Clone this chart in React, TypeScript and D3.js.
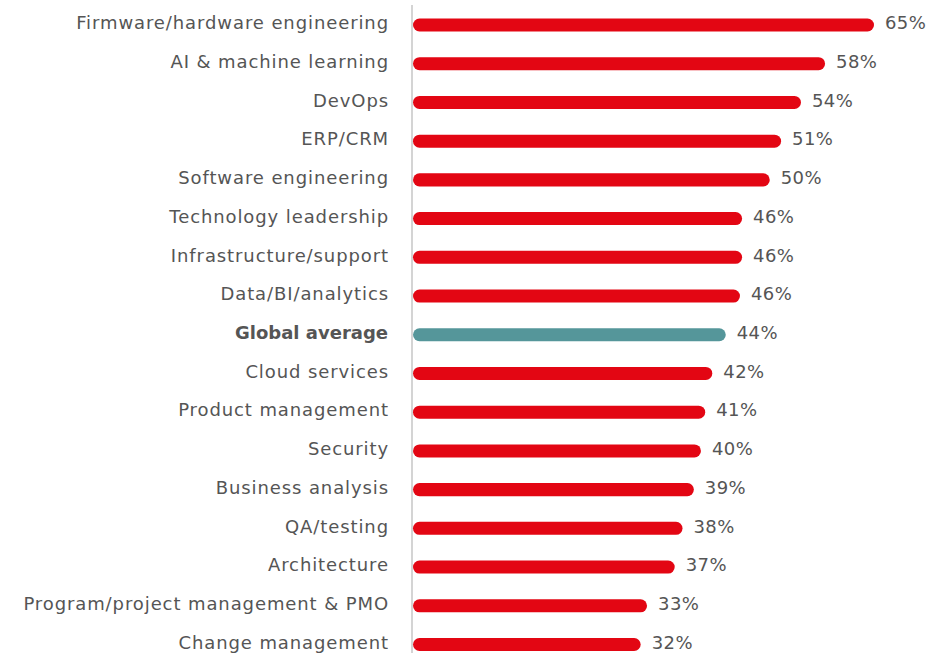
import React from 'react'
import * as d3 from 'd3'

const categories = [
  'Firmware/hardware engineering',
  'AI & machine learning',
  'DevOps',
  'ERP/CRM',
  'Software engineering',
  'Technology leadership',
  'Infrastructure/support',
  'Data/BI/analytics',
  'Global average',
  'Cloud services',
  'Product management',
  'Security',
  'Business analysis',
  'QA/testing',
  'Architecture',
  'Program/project management & PMO',
  'Change management',
]
// bar lengths as drawn (unrounded), and the printed labels
const barValues = [65, 58.1, 54.7, 51.9, 50.3, 46.4, 46.4, 46.1, 44.1, 42.2, 41.2, 40.6, 39.6, 38.0, 36.9, 33.0, 32.1]
const labels = [65, 58, 54, 51, 50, 46, 46, 46, 44, 42, 41, 40, 39, 38, 37, 33, 32]
const highlight = 'Global average'

const W = 938
const H = 653
const FONT = '"DejaVu Sans", sans-serif'

export default function App() {
  const x = d3.scaleLinear().domain([0, 65]).range([413, 874])
  const y = d3.scaleBand<string>().domain(categories).range([18.5, 651]).paddingInner(0.664).paddingOuter(0)
  const bh = y.bandwidth()

  return (
    <svg width={W} height={H} style={{ position: 'absolute', left: 0, top: 0, background: '#fff' }}>
      <line x1={412} x2={412} y1={5} y2={H} stroke="#d4d4d4" strokeWidth={2} />
      {categories.map((c, i) => {
        const yc = (y(c) ?? 0) + bh / 2 - 2
        const isAvg = c === highlight
        return (
          <g key={c}>
            <rect
              x={x(0)}
              y={y(c)}
              width={x(barValues[i]) - x(0)}
              height={bh}
              rx={bh / 2}
              fill={isAvg ? '#55969a' : '#e30613'}
            />
            <text
              x={isAvg ? 388 : 389}
              y={yc}
              dy="0.35em"
              textAnchor="end"
              fontFamily={FONT}
              fontSize={18}
              fontWeight={isAvg ? 700 : 400}
              letterSpacing={isAvg ? 0 : 0.9}
              fill="#555"
            >
              {c}
            </text>
            <text
              x={x(barValues[i]) + 11}
              y={yc}
              dy="0.35em"
              fontFamily={FONT}
              fontSize={18}
              letterSpacing={0.4}
              fill="#555"
            >
              {labels[i]}%
            </text>
          </g>
        )
      })}
    </svg>
  )
}
